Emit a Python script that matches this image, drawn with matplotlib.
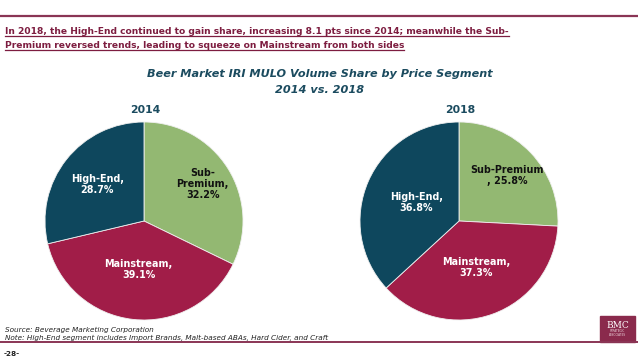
import matplotlib
matplotlib.use("Agg")
import matplotlib.pyplot as plt
from matplotlib.patches import Rectangle
import numpy as np

segments = ["Sub-Premium", "Mainstream", "High-End"]
share_2014 = [32.2, 39.1, 28.7]
share_2018 = [25.8, 37.3, 36.8]
labels_2014 = ["Sub-\nPremium,\n32.2%", "Mainstream,\n39.1%", "High-End,\n28.7%"]
labels_2018 = ["Sub-Premium\n, 25.8%", "Mainstream,\n37.3%", "High-End,\n36.8%"]
years = ["2014", "2018"]

colors = ["#93B872", "#A11D48", "#0E475D"]
label_colors = ["#111111", "white", "white"]
MAROON = "#7D1D40"
TEAL = "#1B4B5F"

W, H = 638, 359
fig = plt.figure(figsize=(W / 100, H / 100), dpi=100)
fig.patch.set_facecolor("white")

def fx(x): return x / W
def fy(y): return 1 - y / H

# top rule
fig.add_artist(plt.Line2D([0, 1], [fy(16), fy(16)], color="#8A3555", lw=1.6))
# bottom rule
fig.add_artist(plt.Line2D([0, 1], [fy(342), fy(342)], color="#8A3555", lw=1.4))

head_lines = ["In 2018, the High-End continued to gain share, increasing 8.1 pts since 2014; meanwhile the Sub-",
              "Premium reversed trends, leading to squeeze on Mainstream from both sides"]
head_texts = []
for i, s in enumerate(head_lines):
    t = fig.text(fx(5), fy(32 + 14 * i), s, color=MAROON, fontsize=6.6, fontweight="bold",
                 ha="left", va="center", family="DejaVu Sans")
    head_texts.append(t)

fig.text(fx(320), fy(74), "Beer Market IRI MULO Volume Share by Price Segment", color=TEAL,
         fontsize=8.1, fontweight="bold", style="italic", ha="center", va="center")
fig.text(fx(320), fy(90), "2014 vs. 2018", color=TEAL,
         fontsize=8.1, fontweight="bold", style="italic", ha="center", va="center")

pies = [(144, share_2014, labels_2014, [0.70, 0.49, 0.60]),
        (459, share_2018, labels_2018, [0.67, 0.50, 0.47])]
R = 99
CY = 221
for (cx, vals, labs, dists), yr in zip(pies, years):
    ax = fig.add_axes([fx(cx - R), fy(CY + R), 2 * R / W, 2 * R / H])
    wedges, _ = ax.pie(vals, colors=colors, startangle=90, counterclock=False,
                       wedgeprops=dict(edgecolor="#f0f0f0", linewidth=0.6))
    ax.set_xlim(-1, 1); ax.set_ylim(-1, 1); ax.set_aspect("equal"); ax.axis("off")
    for w, lab, d, c in zip(wedges, labs, dists, label_colors):
        ang = np.deg2rad((w.theta1 + w.theta2) / 2)
        ax.text(d * np.cos(ang), d * np.sin(ang), lab, ha="center", va="center",
                color=c, fontsize=6.9, fontweight="bold", linespacing=1.1)
    fig.text(fx(cx + 1), fy(110), yr, color=TEAL, fontsize=7.8, fontweight="bold",
             ha="center", va="center")

fig.text(fx(5), fy(330), "Source: Beverage Marketing Corporation", fontsize=5.2, style="italic",
         color="#222222", ha="left", va="center")
fig.text(fx(5), fy(337.5), "Note: High-End segment includes Import Brands, Malt-based ABAs, Hard Cider, and Craft",
         fontsize=5.2, style="italic", color="#222222", ha="left", va="center")
fig.text(fx(4), fy(354), "-28-", fontsize=5.2, fontweight="bold", color="#222222", ha="left", va="center")

# logo
fig.add_artist(Rectangle((fx(600), fy(342)), 35 / W, 26 / H, color="#8A2A4C", transform=fig.transFigure))
fig.text(fx(617.5), fy(325), "BMC", fontsize=6.5, family="DejaVu Serif", color="white",
         ha="center", va="center")
fig.text(fx(617.5), fy(333), "STRATEGIC\nASSOCIATES", fontsize=2, color="#f0d8e0",
         ha="center", va="center", linespacing=1.0)

# underline header
fig.canvas.draw()
r = fig.canvas.get_renderer()
for t in head_texts:
    bb = t.get_window_extent(renderer=r).transformed(fig.transFigure.inverted())
    yline = bb.y0 + 0.002
    fig.add_artist(plt.Line2D([bb.x0, bb.x1], [yline, yline], color=MAROON, lw=0.9))

fig.savefig("out.png", dpi=100, facecolor="white")
